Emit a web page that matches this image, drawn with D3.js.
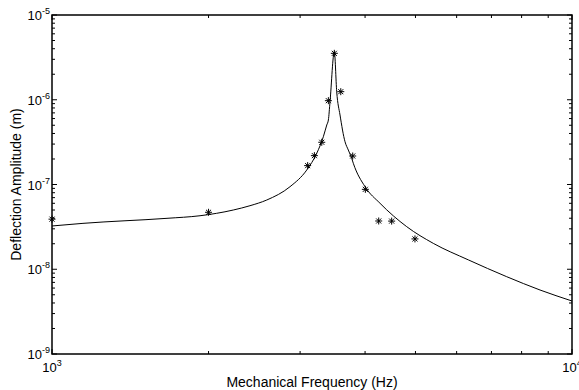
<!DOCTYPE html>
<meta charset="utf-8">
<style>
  body { margin: 0; background: #fff; }
  text { font-family: "Liberation Sans", Arial, sans-serif; fill: #000; }
</style>
<svg width="579" height="390"></svg>
<script src="https://d3js.org/d3.v7.min.js"></script>
<script>
  // fitted response curve
  var curveFreq = [1000, 1147, 1664, 1926, 2232, 2403, 2588, 2869, 3089, 3229, 3325, 3376, 3400, 3425, 3491,
    3528, 3580, 3660, 3714, 3770, 3797, 3999, 4274, 4810, 5411, 6319, 7489, 8680, 10000];
  var curveAmp = [3.24e-8, 3.48e-8, 3.99e-8, 4.28e-8, 5.0e-8, 5.62e-8, 6.56e-8, 9.42e-8, 1.48e-7, 2.33e-7, 3.66e-7, 5.04e-7, 5.77e-7, 9.48e-7, 3.69e-6,
    1.24e-6, 6.61e-7, 3.2e-7, 2.55e-7, 2.04e-7, 1.78e-7, 9.42e-8, 6.0e-8, 3.18e-8, 2.02e-8, 1.29e-8, 8.17e-9, 5.69e-9, 4.22e-9];

  // measured points
  var measFreq = [1000, 2000, 3102, 3196, 3302, 3400, 3491, 3592, 3787, 4005, 4249, 4500, 4989];
  var measAmp = [3.9e-8, 4.7e-8, 1.67e-7, 2.19e-7, 3.15e-7, 9.75e-7, 3.53e-6, 1.245e-6, 2.17e-7, 8.77e-8, 3.71e-8, 3.7e-8, 2.28e-8];

  var xTickExp = [3, 4];
  var yTickExp = [-9, -8, -7, -6, -5];

  var svg = d3.select("svg"),
    margin = {top: 15, right: 7, bottom: 36, left: 52},
    width = +svg.attr("width") - margin.left - margin.right,
    height = +svg.attr("height") - margin.top - margin.bottom;

  var x = d3.scaleLog().domain([1e3, 1e4]).range([0, width]),
    y = d3.scaleLog().domain([1e-9, 1e-5]).range([height, 0]);

  var g = svg.append("g")
    .attr("transform", "translate(" + margin.left + "," + margin.top + ")");

  // ticks, inward on all four sides
  var xTicks = x.ticks(), yTicks = y.ticks();
  function isMajor(v) { return Math.abs(Math.log10(v) - Math.round(Math.log10(v))) < 1e-9; }

  xTicks.forEach(function(v) {
    var len = isMajor(v) ? 5 : 3;
    g.append("line").attr("x1", x(v)).attr("x2", x(v)).attr("y1", height).attr("y2", height - len)
      .attr("stroke", "#000");
    g.append("line").attr("x1", x(v)).attr("x2", x(v)).attr("y1", 0).attr("y2", len)
      .attr("stroke", "#000");
  });
  yTicks.forEach(function(v) {
    var len = isMajor(v) ? 5 : 3;
    g.append("line").attr("x1", 0).attr("x2", len).attr("y1", y(v)).attr("y2", y(v))
      .attr("stroke", "#000");
    g.append("line").attr("x1", width).attr("x2", width - len).attr("y1", y(v)).attr("y2", y(v))
      .attr("stroke", "#000");
  });

  // box
  g.append("rect")
    .attr("width", width).attr("height", height)
    .attr("fill", "none").attr("stroke", "#000").attr("stroke-width", 1.5);

  // tick labels
  xTickExp.forEach(function(e) {
    var t = g.append("text")
      .attr("x", x(Math.pow(10, e))).attr("y", height + 18)
      .attr("text-anchor", "middle").style("font-size", "13px");
    t.append("tspan").text("10");
    t.append("tspan").attr("dy", -6).style("font-size", "9px").text(e);
  });
  yTickExp.forEach(function(e) {
    var t = g.append("text")
      .attr("x", -2).attr("y", y(Math.pow(10, e)) + 5)
      .attr("text-anchor", "end").style("font-size", "13px");
    t.append("tspan").text("10");
    t.append("tspan").attr("dy", -6).style("font-size", "9px").text(e);
  });

  // axis titles
  svg.append("text")
    .attr("x", margin.left + width / 2).attr("y", 387)
    .attr("text-anchor", "middle").style("font-size", "14px")
    .text("Mechanical Frequency (Hz)");
  svg.append("text")
    .attr("transform", "translate(21," + (margin.top + height / 2) + ") rotate(-90)")
    .attr("text-anchor", "middle").style("font-size", "14px")
    .text("Deflection Amplitude (m)");

  // curve
  var curve = curveFreq.map(function(f, i) { return [f, curveAmp[i]]; });
  g.append("path")
    .datum(curve)
    .attr("fill", "none").attr("stroke", "#000").attr("stroke-width", 1)
    .attr("d", d3.line().curve(d3.curveMonotoneX)
      .x(function(d) { return x(d[0]); }).y(function(d) { return y(d[1]); }));

  // star markers
  var r = 3.5, rd = r * 0.72;
  var star = "M" + (-r) + ",0L" + r + ",0M0," + (-r) + "L0," + r +
    "M" + (-rd) + "," + (-rd) + "L" + rd + "," + rd + "M" + (-rd) + "," + rd + "L" + rd + "," + (-rd);
  g.selectAll(".pt")
    .data(measFreq.map(function(f, i) { return [f, measAmp[i]]; }))
    .enter().append("path")
    .attr("class", "pt")
    .attr("transform", function(d) { return "translate(" + x(d[0]) + "," + y(d[1]) + ")"; })
    .attr("d", star)
    .attr("stroke", "#000").attr("stroke-width", 1).attr("fill", "none");
</script>
